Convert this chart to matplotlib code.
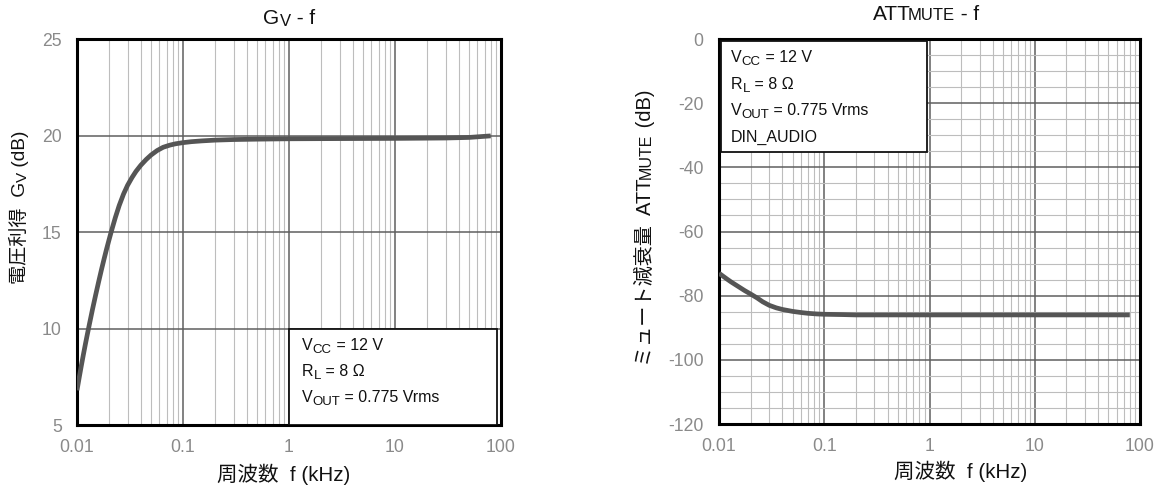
import numpy as np
import matplotlib
matplotlib.use("Agg")
import matplotlib.pyplot as plt
from matplotlib.patches import Rectangle
from matplotlib.transforms import Affine2D
from matplotlib.ticker import FixedLocator, NullFormatter, LogLocator

FAMILY = ["Liberation Sans", "Noto Sans CJK JP", "DejaVu Sans"]
plt.rcParams["font.family"] = FAMILY
plt.rcParams["axes.unicode_minus"] = False

# ---- data ----
freq_gv = [0.01, 0.0105, 0.011, 0.0115, 0.012, 0.0125, 0.013, 0.014, 0.015,
           0.016, 0.017, 0.018, 0.019, 0.02, 0.021, 0.023, 0.025, 0.0275,
           0.03, 0.033, 0.036, 0.04, 0.045, 0.05, 0.057, 0.065, 0.075, 0.085,
           0.1, 0.12, 0.15, 0.2, 0.3, 0.5, 1, 3, 10, 30, 50, 80]
gain_gv = [6.8, 7.47, 8.09, 8.66, 9.19, 9.68, 10.14, 10.99, 11.74,
           12.42, 13.04, 13.6, 14.11, 14.57, 15.0, 15.75, 16.37, 16.97,
           17.42, 17.82, 18.14, 18.46, 18.76, 18.99, 19.22, 19.39, 19.5, 19.57,
           19.63, 19.68, 19.72, 19.76, 19.79, 19.81, 19.83, 19.84, 19.85, 19.87,
           19.9, 19.98]

freq_att = [0.01, 0.011, 0.012, 0.013, 0.015, 0.0175, 0.02, 0.023, 0.026, 0.03,
            0.035, 0.04, 0.05, 0.06, 0.07, 0.085, 0.1, 0.15, 0.2, 0.5, 1, 2,
            5, 10, 20, 50, 80]
att_mute = [-73.0, -74.0, -74.9, -75.7, -77.0, -78.4, -79.5, -80.7, -81.9, -83.0,
            -83.8, -84.3, -84.9, -85.25, -85.5, -85.7, -85.8, -85.9, -86.0, -86.0,
            -86.0, -86.0, -86.0, -86.0, -86.0, -86.0, -86.0]

x_ticks = [0.01, 0.1, 1, 10, 100]
x_ticklabels = ["0.01", "0.1", "1", "10", "100"]
gv_yticks = [5, 10, 15, 20, 25]
att_yticks = [-120, -100, -80, -60, -40, -20, 0]

cond_gv = [[("V", 11.5, 0), ("CC", 9.5, -3), (" = 12 V", 11.5, 0)],
           [("R", 11.5, 0), ("L", 9.5, -3), (" = 8 Ω", 11.5, 0)],
           [("V", 11.5, 0), ("OUT", 9.5, -3), (" = 0.775 Vrms", 11.5, 0)]]
cond_att = cond_gv + [[("DIN_AUDIO", 11.5, 0)]]

W, H = 1176, 490
fig = plt.figure(figsize=(W / 100, H / 100), dpi=100)

LINE_C = "#555555"
MAJ_C = "#5f5f5f"
MIN_C = "#bdbdbd"
TICK_C = "#8a8a8a"


def fx(px):
    return px / W


def fy(py):
    return 1 - py / H


def rich_text(x, y, pieces, rotation=0, ha="center"):
    """Draw a run of text pieces (text, size, rise[, kern]) at figure pixel (x, y)."""
    r = fig.canvas.get_renderer()
    arts, widths, kerns = [], [], []
    for piece in pieces:
        s, size = piece[0], piece[1]
        t = fig.text(fx(x), fy(y), s, fontsize=size, rotation=rotation,
                     ha="left", va="baseline", rotation_mode="anchor",
                     color="#111111")
        bb = t.get_window_extent(r)
        widths.append(bb.width if rotation == 0 else bb.height)
        kerns.append(piece[3] if len(piece) > 3 else 0)
        arts.append(t)
    total = sum(widths) + sum(kerns)
    pos = -total / 2 if ha == "center" else 0
    for t, w, k, piece in zip(arts, widths, kerns, pieces):
        rise = piece[2]
        pos += k
        if rotation == 0:
            dx, dy = pos, rise
        else:
            dx, dy = -rise, pos
        t.set_transform(fig.transFigure + Affine2D().translate(dx, dy))
        pos += w


def setup_axes(ax, ylim, yticks, yminor):
    ax.set_xscale("log")
    ax.set_xlim(0.01, 100)
    ax.set_ylim(*ylim)
    ax.set_xticks(x_ticks)
    ax.set_xticklabels(x_ticklabels)
    ax.xaxis.set_minor_locator(LogLocator(base=10, subs=np.arange(2, 10)))
    ax.xaxis.set_minor_formatter(NullFormatter())
    ax.set_yticks(yticks)
    if yminor is not None:
        ax.yaxis.set_minor_locator(FixedLocator(yminor))
    ax.tick_params(which="both", length=0, labelsize=12.7, labelcolor=TICK_C)
    ax.tick_params(axis="y", pad=11)
    ax.tick_params(axis="x", pad=10)
    ax.grid(which="major", color=MAJ_C, lw=1.1)
    ax.grid(which="minor", axis="x", color=MIN_C, lw=0.8)
    if yminor is not None:
        ax.grid(which="minor", axis="y", color=MIN_C, lw=0.8)
    ax.set_axisbelow(True)
    for sp in ax.spines.values():
        sp.set_linewidth(2.2)
        sp.set_color("black")


# ---- left: voltage gain ----
ax1 = fig.add_axes([fx(77), fy(425), fx(501 - 77), (425 - 39) / H])
setup_axes(ax1, (5, 25), gv_yticks, None)
ax1.plot(freq_gv, gain_gv, color=LINE_C, lw=3.4, solid_capstyle="butt", zorder=3)
ax1.add_patch(Rectangle((0.5, 0.0), 0.49, 0.25, transform=ax1.transAxes,
                        facecolor="white", edgecolor="#111111", lw=1.3, zorder=4))

# ---- right: mute attenuation ----
ax2 = fig.add_axes([fx(719), fy(424), fx(1140 - 719), (424 - 39) / H])
setup_axes(ax2, (-120, 0), att_yticks, np.arange(-115, 0, 5))
ax2.plot(freq_att, att_mute, color=LINE_C, lw=3.4, solid_capstyle="butt", zorder=3)
ax2.add_patch(Rectangle((0.005, 0.706), 0.489, 0.29, transform=ax2.transAxes,
                        facecolor="white", edgecolor="#111111", lw=1.3, zorder=4))

fig.canvas.draw()

# titles
rich_text(289, 24, [("G", 15, 0), ("V", 12, -2), (" - f", 15, 0)])
rich_text(926, 20, [("ATT", 15, 0), ("MUTE", 12, 0, -3), (" - f", 15, 0)])

# axis labels
rich_text(284, 481, [("周波数  f (kHz)", 14.8, 0)])
rich_text(961, 478, [("周波数  f (kHz)", 14.8, 0)])
rich_text(25, 207, [("電圧利得  G", 13.8, 0), ("V", 11, -2), (" (dB)", 13.8, 0)],
          rotation=90)
rich_text(651, 228, [("ミュート減衰量  ATT", 14.5, 0), ("MUTE", 11.5, 0), (" (dB)", 14.5, 0)],
          rotation=90)

# condition boxes
for i, line in enumerate(cond_gv):
    rich_text(302, 350 + 26 * i, line, ha="left")
for i, line in enumerate(cond_att):
    rich_text(731, 62 + 26.5 * i, line, ha="left")

fig.savefig("out.png", dpi=100)
